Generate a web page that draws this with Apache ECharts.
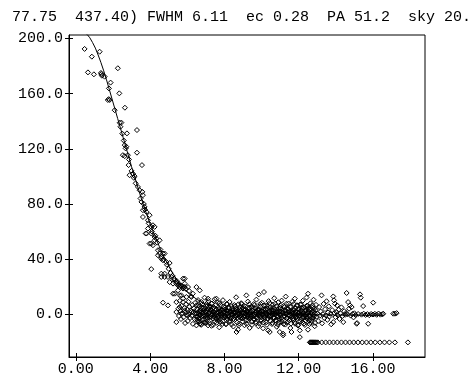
<!DOCTYPE html>
<html>
<head>
<meta charset="utf-8">
<script src="https://cdn.jsdelivr.net/npm/echarts@6/dist/echarts.min.js"></script>
<style>
html,body{margin:0;padding:0;background:#fff;}
#chart{width:471px;height:388px;}
</style>
</head>
<body>
<div id="chart"></div>
<script>
// ---- Data ----
var titleText = "77.75  437.40) FWHM 6.11  ec 0.28  PA 51.2  sky 20.";
var xTicks = [0, 4, 8, 12, 16];
var yTicks = [0, 40, 80, 120, 160, 200];

// fitted profile curve
var fitR = [0.45,0.6,0.75,0.9,1.05,1.2,1.35,1.5,1.65,1.8,1.95,2.1,2.25,2.4,2.55,2.7,2.85,3.0,3.25,3.5,3.75,4.0,4.25,4.5,4.75,5.0,5.25,5.5,5.75,6.0,6.5,7.0,7.5,8.0,9.0,10.0,11.0,12.0,13.0,14.0,15.0,16.0,16.5];
var fitV = [205,203,200.5,197,193,188,182.5,176.5,170,163,156,149,142,135,128,121,114,107,96,85,75,65.5,57,49,41.5,35,29,24,19.5,16,11,7.5,5.2,3.7,2.0,1.0,0.4,0.0,-0.3,-0.5,-0.6,-0.7,-0.7];

// points along the steep inner profile
var innerPts = [[0.47,192.4],[0.86,186.8],[1.28,190.4],[0.65,175.4],[0.97,174],[1.35,175],[1.37,174.2],[1.4,173],[1.55,172.3],[2.26,178.4],[1.87,168],[1.78,163.8],[2.34,160.2],[1.72,155.4],[1.77,156],[1.82,155.4],[2.09,148],[2.64,149.8],[2.36,138.9],[2.45,139],[2.75,131.2],[3.29,133.6],[2.63,122.7],[2.68,120.3],[2.72,121.5],[2.53,115.4],[2.63,114.7],[2.8,115.4],[2.86,112.3],[2.84,108.2],[3.29,117.2],[3.56,108.2],[2.89,100.9],[3.07,102],[3.16,100.2],[3.34,92.4],[3.43,90],[3.58,88.8],[3.61,86.4],[3.53,81.5],[3.7,77.9],[3.61,75.5],[3.8,74.3],[3.61,70.6],[3.88,68.2],[3.97,71.9],[4.15,64.6],[4.24,63.4],[3.88,62.2],[4.06,63.4],[3.76,58.6],[3.8,58.6],[4.06,58.6],[4.24,56.1],[4.33,55],[4.06,51.3],[4.15,50.1],[3.97,51.3],[4.24,53.7],[4.51,53.7],[4.42,46.5],[4.51,44.1],[4.6,41.6],[4.78,44.1],[4.69,39.2],[4.87,38],[5.05,37.2],[4.42,42.8],[4.6,40.4],[4.69,44.1],[4.06,32.8],[4.6,29.5],[4.78,27.1],[4.6,27.1],[4.78,29.5],[4.96,27.1],[5.14,27.1],[5.32,24.7],[5.41,22.3],[5.59,19.8],[5.68,21],[5.86,19.8],[6.04,19.8],[5.86,25.9],[6.49,19.8],[6.67,17.4],[5.05,23.4],[5.23,22.3],[5.41,23.4],[5.5,21],[5.77,25.9],[5.86,22.3],[5.23,15],[5.5,17.4],[5.77,18.7],[5.59,13.8],[4.69,8.5],[4.96,6.5],[5.32,15],[5.68,13.8],[5.95,12.6],[6.22,12.6],[5.41,-5.6],[5.41,1.7],[5.41,8.9],[5.59,5.3],[5.68,0.5],[5.77,8.9],[5.86,2.9],[6.04,-0.7],[6.22,1.7],[6.4,0.5],[6.49,6.5],[6.76,8.9],[7.12,11.4],[7.3,7.8],[7.57,11.4],[6.49,-8],[6.67,-6.8],[6.94,-5.6],[7.12,-8],
[2.4,136],[2.5,131],[2.58,126],[3.0,104],[3.12,99],[3.22,95],[3.48,84],[3.66,80],[3.72,76],[3.92,66],[4.1,60],[4.28,57],[4.38,52],[4.55,47],[4.72,40],[4.9,36],[5.0,33],[5.1,30],[5.2,28],[5.28,26],[5.45,24],[5.55,22],[5.62,21],[5.72,20],[5.8,19.5],[5.92,18.5],[6.1,17],[6.3,15]];

// background cloud around zero
var cloudPts = [[5.52,4.1],[5.55,-1.2],[5.6,9.8],[5.63,2.5],[5.66,-3.4],[5.7,6.2],[5.74,0.8],[5.78,11.5],[5.8,-2.1],[5.84,4.6],[5.88,-6.3],[5.9,1.5],[5.94,7.4],[5.97,-0.4],[6.0,3.3],
[6.03,-4.8],[6.06,9.1],[6.1,0.2],[6.12,5.5],[6.15,-2.6],[6.18,2.9],[6.2,13.2],[6.24,-1.0],[6.27,6.8],[6.3,-6.9],[6.33,1.7],[6.36,4.2],[6.4,-3.5],[6.42,8.3],[6.45,0.6],[6.48,-1.8],
[6.52,3.8],[6.55,-5.2],[6.58,10.4],[6.6,1.2],[6.63,-2.9],[6.66,5.9],[6.7,-0.3],[6.72,2.4],[6.75,-7.6],[6.78,7.1],[6.8,0.9],[6.83,-3.8],[6.86,4.5],[6.9,-1.4],[6.93,12.1],[6.96,1.9],[6.98,-5.9],
[7.02,3.1],[7.05,-2.2],[7.08,6.4],[7.1,-0.8],[7.13,9.7],[7.16,1.4],[7.2,-4.4],[7.22,4.8],[7.25,-1.7],[7.28,2.6],[7.3,-8.3],[7.33,7.9],[7.36,0.1],[7.4,-3.1],[7.42,5.2],[7.45,-0.5],[7.48,11.0],
[7.52,-2.5],[7.55,3.6],[7.58,-6.1],[7.6,1.0],[7.63,8.6],[7.66,-1.3],[7.7,4.0],[7.72,-9.4],[7.75,2.1],[7.78,-3.6],[7.8,6.7],[7.83,-0.2],[7.86,3.4],[7.9,-5.0],[7.92,10.3],[7.95,1.6],[7.98,-2.0],
[8.02,5.0],[8.05,-0.9],[8.08,-7.2],[8.1,2.8],[8.13,7.7],[8.16,-3.3],[8.2,0.4],[8.22,4.3],[8.25,-1.6],[8.28,9.0],[8.3,-5.5],[8.33,1.8],[8.36,-2.7],[8.4,6.0],[8.42,-0.1],[8.45,3.0],[8.48,-8.8],
[8.52,1.1],[8.55,-4.0],[8.58,5.7],[8.6,-1.1],[8.63,12.4],[8.65,-12.8],[8.68,2.2],[8.7,-2.4],[8.73,-11.1],[8.75,7.3],[8.78,0.3],[8.8,-6.6],[8.83,3.9],[8.86,-0.6],[8.9,8.1],[8.92,-3.0],[8.95,1.3],[8.98,4.7],
[9.02,-1.9],[9.05,6.3],[9.08,-7.9],[9.1,0.7],[9.13,3.5],[9.16,-4.6],[9.18,13.8],[9.2,2.0],[9.23,-0.4],[9.26,9.3],[9.3,-2.8],[9.33,4.9],[9.36,-9.8],[9.4,1.5],[9.42,-1.5],[9.45,5.6],[9.48,-5.3],
[9.52,2.7],[9.55,-0.7],[9.58,7.5],[9.6,-3.7],[9.63,0.2],[9.66,4.4],[9.7,-6.4],[9.72,10.7],[9.75,1.9],[9.78,-2.3],[9.8,3.2],[9.83,-8.6],[9.85,14.5],[9.88,0.5],[9.9,5.8],[9.93,-1.2],[9.96,-4.9],[9.98,2.5],
[10.02,8.4],[10.05,-0.3],[10.08,-10.1],[10.1,3.7],[10.13,16.2],[10.16,-2.0],[10.2,1.0],[10.22,6.5],[10.25,-5.8],[10.28,0.0],[10.3,4.1],[10.33,-3.2],[10.35,-11.6],[10.38,9.6],[10.4,1.7],[10.42,-1.5],[10.44,-12.8],[10.47,5.2],
[10.5,-0.8],[10.53,2.9],[10.56,-7.0],[10.6,7.0],[10.62,0.6],[10.65,-2.6],[10.68,11.7],[10.7,3.6],[10.73,-4.3],[10.76,0.1],[10.8,5.9],[10.82,-9.0],[10.85,1.4],[10.88,-1.8],[10.9,8.8],[10.93,-6.0],[10.96,2.3],[10.98,-12.8],
[11.02,4.6],[11.05,-0.5],[11.08,10.0],[11.1,-3.9],[11.13,1.2],[11.16,-15.2],[11.16,-14.0],[11.2,6.1],[11.22,-1.0],[11.25,2.8],[11.28,-7.4],[11.3,12.9],[11.33,0.4],[11.36,-2.9],[11.4,4.0],[11.42,-5.1],[11.45,7.8],[11.48,-0.2],
[11.52,2.0],[11.55,-9.9],[11.58,5.4],[11.61,-12.8],[11.63,-1.4],[11.66,9.2],[11.7,0.8],[11.72,-4.1],[11.75,3.3],[11.79,11.4],[11.8,-6.8],[11.83,1.6],[11.86,-2.2],[11.9,6.6],[11.93,-0.6],[11.96,-8.1],[11.98,3.9],
[12.02,-1.3],[12.06,-16.5],[12.06,-11.6],[12.08,7.2],[12.1,0.3],[12.13,-3.6],[12.16,4.4],[12.2,-5.7],[12.22,9.9],[12.25,1.1],[12.28,-1.9],[12.3,5.0],[12.33,-7.7],[12.36,2.4],[12.4,-0.3],[12.42,12.2],[12.45,-3.0],[12.48,6.2],
[12.5,15.0],[12.5,-11.1],[12.52,0.9],[12.55,-4.5],[12.58,3.5],[12.6,-1.1],[12.63,8.0],[12.66,-6.2],[12.7,1.9],[12.73,4.8],[12.76,-2.4],[12.8,10.6],[12.82,-0.4],[12.86,-8.6],[12.9,3.0],[12.93,6.9],[12.96,-1.7],
[13.0,0.6],[13.05,-4.8],[13.1,5.3],[13.14,-1.0],[13.18,2.1],[13.23,13.8],[13.26,-6.5],[13.3,0.2],[13.34,7.6],[13.38,-2.7],[13.42,3.8],[13.46,-0.8],[13.5,9.5],
[13.54,-4.0],[13.58,1.4],[13.62,5.8],[13.66,-1.5],[13.7,0.4],[13.75,-7.2],[13.8,3.1],[13.86,13.0],[13.86,-5.6],[13.9,10.2],[13.92,0.9],[13.95,7.8],[13.98,-2.0],
[14.03,1.8],[14.07,6.5],[14.1,-0.6],[14.15,3.4],[14.2,-3.3],[14.25,0.7],[14.3,5.1],[14.35,-1.2],[14.4,-5.6],[14.45,2.3],[14.5,-0.3],
[14.55,1.0],[14.58,15.5],[14.62,0.0],[14.66,8.9],[14.71,4.1],[14.76,6.5],[14.8,-0.9],[14.85,5.3],[14.9,0.4],[14.95,-2.2],
[15.0,0.8],[15.06,-0.5],[15.12,-6.8],[15.14,-6.3],[15.2,0.3],[15.3,14.5],[15.34,12.1],[15.38,-0.2],[15.47,6.0],[15.5,0.5],[15.6,-0.4],[15.7,0.2],[15.74,-6.8],[15.8,-0.6],[15.9,0.3],[16.01,8.5],[16.0,-0.1],
[16.1,0.4],[16.2,-0.3],[16.3,0.6],[16.4,-0.2],[16.5,0.0],[16.55,0.5],[17.09,0.5],[17.18,0.5],[17.27,0.9]];

// dense core near zero
var coreB = [[6.52,0.4],[6.57,-1.6],[6.62,2.2],[6.67,-0.9],[6.72,1.5],[6.77,-2.1],[6.82,0.7],[6.87,3.0],[6.92,-0.2],[6.97,1.8],
[7.02,-1.1],[7.07,2.5],[7.12,0.3],[7.17,-2.4],[7.22,1.2],[7.27,3.4],[7.32,-0.6],[7.37,1.9],[7.42,-1.8],[7.47,0.8],
[7.52,2.7],[7.57,-0.4],[7.62,1.4],[7.67,-2.6],[7.72,0.2],[7.77,2.0],[7.82,-1.3],[7.87,0.9],[7.92,3.1],[7.97,-0.7],
[8.02,1.6],[8.07,-2.0],[8.12,0.5],[8.17,2.6],[8.22,-0.8],[8.27,1.3],[8.32,-2.9],[8.37,0.1],[8.42,2.3],[8.47,-1.0],
[8.52,0.9],[8.57,-2.2],[8.62,1.7],[8.67,3.3],[8.72,-0.5],[8.77,0.6],[8.82,-1.9],[8.87,2.4],[8.92,0.0],[8.97,-2.7],
[9.02,1.1],[9.07,3.2],[9.12,-0.9],[9.17,0.4],[9.22,2.1],[9.27,-1.7],[9.32,0.8],[9.37,-3.1],[9.42,1.9],[9.47,-0.2],
[9.52,2.8],[9.57,-1.4],[9.62,0.3],[9.67,1.6],[9.72,-2.5],[9.77,0.9],[9.82,3.0],[9.87,-0.6],[9.92,1.3],[9.97,-1.9],
[10.02,0.2],[10.07,2.2],[10.12,-1.1],[10.17,3.5],[10.22,-0.3],[10.27,1.0],[10.32,-2.8],[10.37,0.7],[10.42,2.5],[10.47,-1.5],
[10.52,1.2],[10.57,-0.4],[10.62,2.9],[10.67,-2.3],[10.72,0.5],[10.77,1.8],[10.82,-0.9],[10.87,3.1],[10.92,-1.6],[10.97,0.1],
[11.02,2.0],[11.07,-2.6],[11.12,0.8],[11.17,1.5],[11.22,-1.2],[11.27,3.2],[11.32,-0.1],[11.37,-2.9],[11.42,1.1],[11.47,2.4],
[11.52,-0.8],[11.57,0.6],[11.62,-2.2],[11.67,1.9],[11.72,3.3],[11.77,-1.5],[11.82,0.3],[11.87,2.1],[11.92,-2.7],[11.97,0.9],
[12.02,1.6],[12.07,-1.0],[12.12,2.7],[12.17,0.2],[12.22,-2.0],[12.27,1.3],[12.32,-0.5],[12.37,3.0],[12.42,-1.8],[12.47,0.7],
[12.52,2.3],[12.57,-0.9],[12.62,1.0],[12.67,-2.4],[12.72,0.4],[12.77,2.6],[12.82,-1.3],[12.87,0.8]];

var coreC = [[6.535,-3.9],[6.585,6.6],[6.635,-5.2],[6.685,2.7],[6.735,-7.1],[6.785,5.0],[6.835,-1.0],[6.885,-5.6],[6.935,4.2],[6.985,-6.6],
[7.035,7.5],[7.085,-2.7],[7.135,3.9],[7.185,-6.3],[7.235,5.9],[7.285,-0.5],[7.335,4.4],[7.385,-7.7],[7.435,1.6],[7.485,-5.4],
[7.535,6.9],[7.585,-3.2],[7.635,2.3],[7.685,-4.4],[7.735,8.1],[7.785,-5.7],[7.835,0.6],[7.885,-7.0],[7.935,5.6],[7.985,-2.2],
[8.035,3.5],[8.085,-6.9],[8.135,7.2],[8.185,-1.8],[8.235,5.2],[8.285,-4.5],[8.335,1.7],[8.385,-7.3],[8.435,4.3],[8.485,-3.4],
[8.535,6.8],[8.585,-0.6],[8.635,4.0],[8.685,-5.9],[8.735,2.6],[8.785,-7.9],[8.835,5.4],[8.885,-2.3],[8.935,7.5],[8.985,-5.1],
[9.035,3.9],[9.085,-1.5],[9.135,5.7],[9.185,-6.8],[9.235,1.2],[9.285,-4.6],[9.335,7.4],[9.385,-2.0],[9.435,5.1],[9.485,-7.6],
[9.535,4.6],[9.585,-3.2],[9.635,6.8],[9.685,-5.4],[9.735,2.5],[9.785,-0.7],[9.835,4.0],[9.885,-6.8],[9.935,7.6],[9.985,-4.1],
[10.035,2.3],[10.085,-5.8],[10.135,6.4],[10.185,-2.5],[10.235,3.7],[10.285,-7.6],[10.335,5.9],[10.385,-1.3],[10.435,8.1],[10.485,-5.0],
[10.535,3.5],[10.585,-6.2],[10.635,5.0],[10.685,-2.9],[10.735,7.8],[10.785,-4.7],[10.835,1.9],[10.885,-7.5],[10.935,4.6],[10.985,-3.4],
[11.035,6.3],[11.085,-5.3],[11.135,2.6],[11.185,-7.0],[11.235,5.2],[11.285,-1.6],[11.335,7.7],[11.385,-5.9],[11.435,3.8],[11.485,-4.3],
[11.535,5.4],[11.585,-6.7],[11.635,2.2],[11.685,-3.1],[11.735,7.5],[11.785,-5.7],[11.835,4.7],[11.885,-1.5],[11.935,6.5],[11.985,-7.4],
[12.035,3.7],[12.085,-5.1],[12.135,7.1],[12.185,-2.8],[12.235,4.6],[12.285,-6.6],[12.335,1.9],[12.385,-4.4],[12.435,6.3],[12.485,-3.6],
[12.535,5.0],[12.585,-7.0],[12.635,3.6],[12.685,-4.6],[12.735,6.5],[12.785,-2.9],[12.835,4.2],[12.885,-6.2]];

// flat row of low pixels
var rowR = [12.6,12.63,12.66,12.7,12.73,12.77,12.8,12.84,12.88,12.92,12.97,13.03,13.24,13.45,13.66,13.87,14.08,14.3,14.52,14.74,14.96,15.19,15.42,15.65,15.88,16.12,16.37,16.62,16.88,17.18,17.88];
var rowV = -20.3;

// ---- Build ----
var fitData = fitR.map(function(r, i){ return [r, fitV[i]]; });
var rowData = rowR.map(function(r){ return [r, rowV]; });
var pts = innerPts.concat(cloudPts, coreB, coreC, rowData);

var FONT = "'Liberation Mono', 'DejaVu Sans Mono', monospace";
var black = '#000';
var chart = echarts.init(document.getElementById('chart'), null, {renderer: 'canvas'});
chart.setOption({
  animation: false,
  backgroundColor: '#fff',
  graphic: [{
    type: 'text', left: 12, top: 10,
    style: { text: titleText, font: "15px " + FONT, fill: black }
  }],
  grid: { left: 69, right: 46, top: 35, bottom: 31, show: true, borderColor: black, borderWidth: 1, backgroundColor: 'transparent' },
  xAxis: [{
    type: 'value', min: -0.37, max: 18.8, position: 'bottom',
    axisLine: { show: true, onZero: false, lineStyle: { color: black, width: 1 } },
    axisTick: { show: true, inside: true, length: 4, customValues: xTicks, lineStyle: { color: black } },
    axisLabel: { show: true, customValues: xTicks, formatter: function(v){ return Number(v).toFixed(2); }, fontFamily: FONT, fontSize: 15, color: black, margin: 5 },
    splitLine: { show: false }
  }, {
    type: 'value', min: -0.37, max: 18.8, position: 'bottom', offset: 0,
    axisLine: { show: false, onZero: false },
    axisTick: { show: true, inside: false, length: 4, customValues: xTicks, lineStyle: { color: black } },
    axisLabel: { show: false },
    splitLine: { show: false }
  }],
  yAxis: [{
    type: 'value', min: -30.9, max: 202.5, position: 'left',
    axisLine: { show: true, onZero: false, lineStyle: { color: black, width: 1 } },
    axisTick: { show: true, inside: true, length: 4, customValues: yTicks, lineStyle: { color: black } },
    axisLabel: { show: true, customValues: yTicks, formatter: function(v){ return Number(v).toFixed(1); }, fontFamily: FONT, fontSize: 15, color: black, margin: 6 },
    splitLine: { show: false }
  }, {
    type: 'value', min: -30.9, max: 202.5, position: 'left', offset: 0,
    axisLine: { show: false, onZero: false },
    axisTick: { show: true, inside: false, length: 4, customValues: yTicks, lineStyle: { color: black } },
    axisLabel: { show: false },
    splitLine: { show: false }
  }],
  series: [{
    type: 'scatter',
    xAxisIndex: 0, yAxisIndex: 0,
    data: pts,
    symbol: 'diamond',
    symbolSize: 5,
    itemStyle: { color: 'rgba(0,0,0,0)', borderColor: black, borderWidth: 1, opacity: 1 },
    emphasis: { disabled: true },
    z: 2
  }, {
    type: 'line',
    xAxisIndex: 0, yAxisIndex: 0,
    data: fitData,
    showSymbol: false,
    symbol: 'none',
    clip: true,
    lineStyle: { color: black, width: 1 },
    emphasis: { disabled: true },
    z: 3
  }]
});
</script>
</body>
</html>
